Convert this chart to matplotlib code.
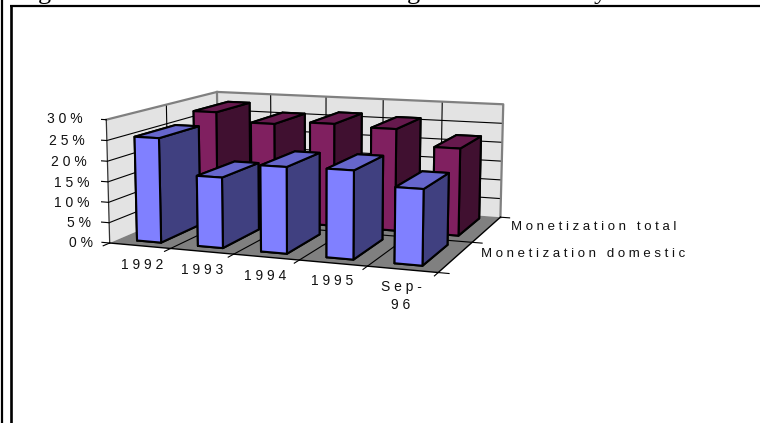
import matplotlib
matplotlib.use('Agg')
import matplotlib.pyplot as plt
from matplotlib.lines import Line2D
from mpl_toolkits.mplot3d.art3d import Poly3DCollection

plt.rcParams['font.family'] = ['Liberation Sans', 'DejaVu Sans']

categories = ['1992', '1993', '1994', '1995', 'Sep-\n96']
series = ['Monetization domestic', 'Monetization total']
domestic = [25.5, 17, 20.5, 20.7, 17.5]
total = [27.8, 25.5, 26.3, 25.8, 21.8]
z_ticks = [0, 5, 10, 15, 20, 25, 30]

W, H = 760, 423
fig = plt.figure(figsize=(W / 100, H / 100), dpi=100)
ax = fig.add_axes([100.5 / W, 38.6 / H, 415.5 / W, 415.5 / H], projection='3d', computed_zorder=False)
ax.set_proj_type('persp', focal_length=0.579)
ax.view_init(elev=9.904, azim=-69.496)
ax.set_box_aspect((4, 4 * 0.767, 4 * 0.367))
ax.set_axis_off()

nx, ny, zmax = len(categories), len(series), max(z_ticks)


def spaced(s):
    # letter-spaced labels
    return '\n'.join(' '.join(part) for part in s.split('\n'))


def wall(verts, color, z):
    ax.add_collection3d(Poly3DCollection([verts], facecolors=color, edgecolors='none', zorder=z))


# walls and floor
wall([(0, 0, 0), (0, ny, 0), (0, ny, zmax), (0, 0, zmax)], '#E3E3E3', 1)
wall([(0, ny, 0), (nx, ny, 0), (nx, ny, zmax), (0, ny, zmax)], '#E3E3E3', 1)
wall([(0, 0, 0), (nx, 0, 0), (nx, ny, 0), (0, ny, 0)], '#808080', 1)

# grid lines
grid = dict(color='black', lw=0.8, zorder=2)
for v in z_ticks[1:-1]:
    ax.plot([0, 0, nx], [0, ny, ny], [v, v, v], **grid)
for i in range(1, nx):
    ax.plot([i, i, i], [0, ny, ny], [0, 0, zmax], **grid)
ax.plot([0, 0], [1, 1], [0, zmax], **grid)
ax.plot([0, nx], [1, 1], [0, 0], **grid)

# wall outlines
ax.plot([0, 0, nx, nx], [0, ny, ny, ny], [zmax, zmax, zmax, 0], color='#808080', lw=1.6, zorder=3)
ax.plot([0, 0], [ny, ny], [0, zmax], color='#808080', lw=1.6, zorder=3)
ax.plot([0, 0], [0, 0], [0, zmax], color='#333333', lw=0.9, zorder=3)
ax.plot([0, nx, nx], [0, 0, ny], [0, 0, 0], color='black', lw=1.0, zorder=3)

# axis ticks
tick = dict(color='black', lw=0.8, zorder=3)
for v in z_ticks:
    ax.plot([0, -0.13], [0, 0], [v, v], **tick)
for i in range(nx + 1):
    ax.plot([i, i], [0, -0.1], [0, 0], **tick)
for j in range(ny + 1):
    ax.plot([nx, nx + 0.15], [j, j], [0, 0], **tick)

# bars, back row first and left to right
bar_w, bar_d = 0.4, 0.7
row_start = [0.15, 1.19]
faces = {0: ['#404080', '#6666CC', '#8080FF', '#404080', '#404080', '#404080'],
         1: ['#401030', '#66194D', '#802060', '#401030', '#401030', '#401030']}
order = 10
for j, values in [(1, total), (0, domestic)]:
    for i, v in enumerate(values):
        ax.bar3d(i + (1 - bar_w) / 2, row_start[j], 0, bar_w, bar_d, v, color=faces[j], shade=False,
                 edgecolor='black', linewidth=1.5, zorder=order)
        order += 1

ax.set_xlim(0, nx)
ax.set_ylim(0, ny)
ax.set_zlim(0, zmax)


def label(x, y, s, size=10, **kw):
    # positions in pixels from the top-left corner
    fig.text(x / W, 1 - y / H, s, va='center', fontsize=size, color='#111111', **kw)


z_label_right = [93, 91, 89, 89, 87, 85, 83]
z_label_y = [243, 223, 203, 183, 162, 141, 119]
for v, x, y in zip(z_ticks, z_label_right, z_label_y):
    label(x, y, spaced('%d%%' % v), ha='right')

cat_label_x = [142, 202, 265, 332, 401]
cat_label_y = [265, 270, 276, 281, 296]
for c, x, y in zip(categories, cat_label_x, cat_label_y):
    label(x, y, spaced(c), ha='center', linespacing=1.3)

series_label_x = [481, 511]
series_label_y = [254, 227]
for s, x, y in zip(series, series_label_x, series_label_y):
    label(x, y, spaced(s), size=9.5, ha='left')

# page frame and the caption line cut off above it
frame = dict(color='black', transform=None, solid_capstyle='butt')
fig.add_artist(Line2D([2, 2], [0, H], lw=1.6, **frame))
fig.add_artist(Line2D([10.5, 10.5], [0, H - 5], lw=1.9, **frame))
fig.add_artist(Line2D([9.5, W], [H - 6, H - 6], lw=1.6, **frame))
for x, ch in [(44, 'g'), (413, 'g'), (600, 'y')]:
    fig.text(x / W, 1 + 1 / H, ch, family='Liberation Serif', fontsize=19, ha='center', va='baseline')

fig.savefig('out.png', dpi=100)
